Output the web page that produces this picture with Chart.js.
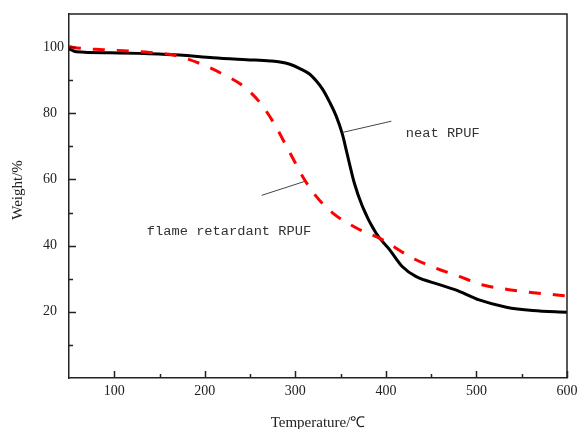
<!DOCTYPE html>
<html><head><meta charset="utf-8">
<script src="https://cdn.jsdelivr.net/npm/chart.js@4/dist/chart.umd.min.js"></script>
<style>html,body{margin:0;padding:0;background:#fff;}#wrap{width:578px;height:429px;position:relative;}</style>
</head><body><div id="wrap"><canvas id="c" width="578" height="429"></canvas></div>
<script>
// ---- data ----
const neatTemp   = [50, 58, 95, 139, 172, 209, 246, 272, 283, 294, 305, 316, 323, 330, 338, 345, 352, 356, 360, 365, 374, 389, 404, 418, 433, 459, 481, 503, 533, 562, 600];
const neatWeight = [99.5, 98.6, 98.3, 98.0, 97.6, 96.8, 96.2, 95.8, 95.5, 94.8, 93.5, 91.8, 89.8, 87.3, 83.3, 79.2, 73.6, 69.1, 64.5, 59.0, 51.9, 43.8, 38.8, 33.7, 30.7, 28.2, 26.2, 23.6, 21.4, 20.4, 19.9];
const frTemp     = [50, 55, 88, 110, 139, 165, 194, 220, 242, 261, 277, 292, 310, 323, 341, 367, 396, 429, 455, 481, 506, 536, 566, 600];
const frWeight   = [100.2, 99.9, 99.2, 98.9, 98.4, 97.6, 95.1, 91.8, 88.3, 83.2, 76.7, 69.1, 60.0, 54.9, 49.9, 45.4, 41.8, 36.3, 33.2, 30.7, 28.2, 26.7, 25.7, 24.8];
const xTickValues  = [100, 200, 300, 400, 500, 600];
const xMinorValues = [150, 250, 350, 450, 550];
const yTickValues  = [20, 40, 60, 80, 100];
const yMinorValues = [10, 30, 50, 70, 90];
const seriesNames  = ['neat RPUF', 'flame retardant RPUF'];
const xTitle = 'Temperature/\u2103';
const yTitle = 'Weight/%';
// annotation anchors in data units
const notes = [
  {text: seriesNames[0], tx: 422, ty: 73.9, line: [352, 74.2, 406, 77.6]},
  {text: seriesNames[1], tx: 136, ty: 44.2, line: [262.8, 55.2, 310.2, 59.4]}
];

const pts = (xs, ys) => xs.map((x, i) => ({x: x, y: ys[i]}));

const decor = {
  id: 'decor',
  afterDraw(chart) {
    const ctx = chart.ctx, a = chart.chartArea;
    const xs = chart.scales.x, ys = chart.scales.y;
    ctx.save();
    ctx.strokeStyle = '#222';
    ctx.lineWidth = 1.5;
    ctx.beginPath();
    ctx.moveTo(a.left, a.top); ctx.lineTo(a.right, a.top); ctx.lineTo(a.right, a.bottom);
    ctx.stroke();
    // inward ticks
    ctx.beginPath();
    xTickValues.forEach(v => { const p = Math.round(xs.getPixelForValue(v)) + 0.5; ctx.moveTo(p, a.bottom); ctx.lineTo(p, a.bottom - 7); });
    xMinorValues.forEach(v => { const p = Math.round(xs.getPixelForValue(v)) + 0.5; ctx.moveTo(p, a.bottom); ctx.lineTo(p, a.bottom - 4); });
    yTickValues.forEach(v => { const p = Math.round(ys.getPixelForValue(v)) + 0.5; ctx.moveTo(a.left, p); ctx.lineTo(a.left + 7, p); });
    yMinorValues.forEach(v => { const p = Math.round(ys.getPixelForValue(v)) + 0.5; ctx.moveTo(a.left, p); ctx.lineTo(a.left + 4, p); });
    ctx.stroke();
    // titles
    ctx.fillStyle = '#222';
    ctx.font = '15px "Liberation Serif"';
    ctx.textAlign = 'center';
    ctx.textBaseline = 'middle';
    ctx.fillText(xTitle, (a.left + a.right) / 2, 423);
    ctx.save();
    ctx.translate(18, 190);
    ctx.rotate(-Math.PI / 2);
    ctx.fillText(yTitle, 0, 0);
    ctx.restore();
    // annotations
    ctx.font = '13.7px "Liberation Mono"';
    ctx.textAlign = 'left';
    ctx.fillStyle = '#333';
    ctx.strokeStyle = '#444';
    ctx.lineWidth = 1;
    notes.forEach(n => {
      ctx.fillText(n.text, xs.getPixelForValue(n.tx), ys.getPixelForValue(n.ty));
      ctx.beginPath();
      ctx.moveTo(xs.getPixelForValue(n.line[0]), ys.getPixelForValue(n.line[1]));
      ctx.lineTo(xs.getPixelForValue(n.line[2]), ys.getPixelForValue(n.line[3]));
      ctx.stroke();
    });
    ctx.restore();
  }
};

new Chart(document.getElementById('c'), {
  type: 'line',
  data: {
    datasets: [
      {label: seriesNames[0], data: pts(neatTemp, neatWeight), borderColor: '#000', borderWidth: 3,
       pointRadius: 0, cubicInterpolationMode: 'monotone', order: 1, fill: false},
      {label: seriesNames[1], data: pts(frTemp, frWeight), borderColor: '#ff0000', borderWidth: 3,
       borderDash: [12, 12], pointRadius: 0, cubicInterpolationMode: 'monotone', order: 0, fill: false}
    ]
  },
  options: {
    responsive: false, animation: false, devicePixelRatio: 1,
    layout: {padding: {left: 43, right: 11, top: 14, bottom: 0}},
    plugins: {legend: {display: false}, tooltip: {enabled: false}},
    scales: {
      x: {
        type: 'linear', min: 50, max: 600, position: 'bottom',
        afterBuildTicks: s => { s.ticks = xTickValues.map(v => ({value: v})); },
        afterFit: s => { s.height = 51; s.paddingLeft = 0; s.paddingRight = 0; },
        grid: {display: false, drawTicks: false},
        border: {display: true, color: '#222', width: 1.5},
        ticks: {font: {family: 'Liberation Serif', size: 14}, color: '#222', padding: 5, maxRotation: 0, autoSkip: false}
      },
      y: {
        type: 'linear', min: 0, max: 110, position: 'left',
        afterBuildTicks: s => { s.ticks = yTickValues.map(v => ({value: v})); },
        afterFit: s => { s.width = 26; s.paddingTop = 0; s.paddingBottom = 0; },
        grid: {display: false, drawTicks: false},
        border: {display: true, color: '#222', width: 1.5},
        ticks: {font: {family: 'Liberation Serif', size: 14}, color: '#222', crossAlign: 'far', autoSkip: false}
      }
    }
  },
  plugins: [decor]
});
</script></body></html>
